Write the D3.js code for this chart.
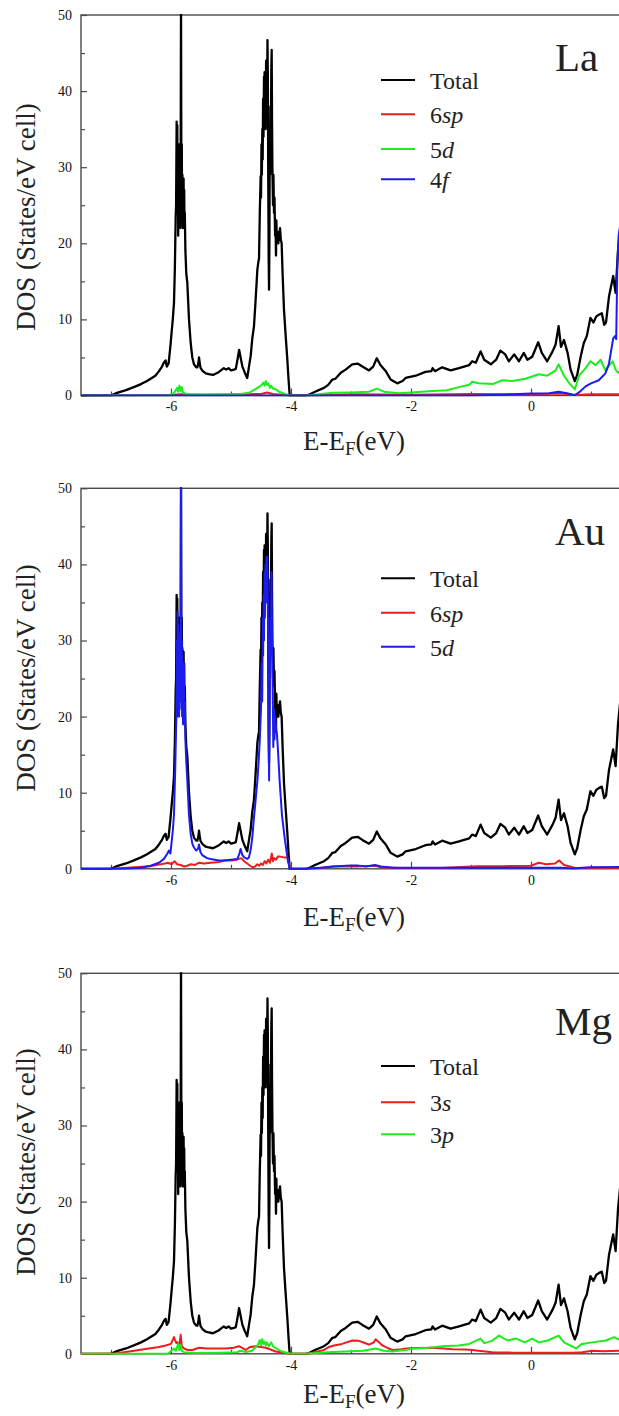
<!DOCTYPE html>
<html>
<head>
<meta charset="utf-8">
<script src="https://cdn.jsdelivr.net/npm/d3@7"></script>
<style>
  body { margin: 0; background: #fff; }
  svg { display: block; }
  text { font-family: "Liberation Serif", "Times New Roman", serif; fill: #222; }
  .tick text { font-family: "Liberation Serif", "Times New Roman", serif; font-size: 14px; fill: #111; }
</style>
</head>
<body>
<svg id="chart" width="619" height="1416"></svg>
<script>
// ---- Data: [E - E_F (eV), DOS (states/eV cell)] ----
const totalDOS = [
  [-7.5,0],[-7.0,0],[-6.9,0.35],[-6.75,0.7],[-6.62,1.1],[-6.5,1.5],[-6.4,1.9],[-6.34,2.2],[-6.26,2.6],[-6.2,3.2],
  [-6.15,3.8],[-6.12,4.3],[-6.09,4.6],[-6.07,3.8],[-6.04,4.2],[-6.01,6.5],[-5.99,8.3],[-5.97,10],[-5.95,12.2],[-5.935,17],
  [-5.922,23.5],[-5.915,25],[-5.906,36],[-5.90,30],[-5.895,35.5],[-5.89,24],[-5.885,32],[-5.88,21],[-5.875,30],[-5.87,23],
  [-5.865,33],[-5.86,26],[-5.85,30],[-5.845,22],[-5.84,28],[-5.833,52],[-5.826,24],[-5.82,33],[-5.815,23],[-5.81,29],
  [-5.805,22],[-5.80,28.5],[-5.795,23],[-5.79,28.5],[-5.785,22],[-5.78,27],[-5.775,22],[-5.77,24],[-5.76,19],[-5.745,16],
  [-5.728,14.8],[-5.70,10],[-5.672,6.9],[-5.645,5],[-5.617,4.1],[-5.58,3.7],[-5.56,3.7],[-5.545,4.2],[-5.533,5.0],[-5.52,4.2],
  [-5.506,3.6],[-5.47,3.2],[-5.42,2.9],[-5.37,2.8],[-5.30,2.7],[-5.2,3.1],[-5.12,3.6],[-5.08,3.4],[-5.04,3.6],[-5.0,3.3],
  [-4.95,3.4],[-4.92,3.5],[-4.89,4.8],[-4.865,6.0],[-4.84,5.0],[-4.81,3.8],[-4.77,3.0],[-4.73,2.3],[-4.70,3.8],[-4.672,5.2],
  [-4.645,7.5],[-4.617,9.1],[-4.59,12.5],[-4.561,16.5],[-4.545,17.5],[-4.533,18],[-4.52,24],[-4.506,28.8],[-4.50,26],[-4.492,33],
  [-4.486,29],[-4.478,35],[-4.472,31],[-4.465,39],[-4.458,34],[-4.45,41.9],[-4.445,36],[-4.44,42.5],[-4.435,37],[-4.428,41],
  [-4.422,35],[-4.415,44],[-4.41,38],[-4.404,43],[-4.398,40],[-4.392,46.7],[-4.386,42],[-4.38,30],[-4.372,18],[-4.366,13.9],
  [-4.36,20],[-4.354,33],[-4.348,29],[-4.342,38],[-4.336,33],[-4.328,43],[-4.322,45.4],[-4.316,36],[-4.31,30],[-4.30,25],
  [-4.293,29],[-4.283,24],[-4.275,26],[-4.265,21],[-4.258,23],[-4.25,18.4],[-4.244,23],[-4.235,20],[-4.225,21.5],[-4.211,20],
  [-4.2,21],[-4.183,22],[-4.17,20.5],[-4.156,20],[-4.14,16],[-4.117,11.3],[-4.09,8],[-4.061,4.7],[-4.04,2.0],[-4.022,0],
  [-3.75,0],[-3.7,0.1],[-3.6,0.5],[-3.45,1.0],[-3.38,1.4],[-3.31,2.1],[-3.26,2.2],[-3.17,3.0],[-3.09,3.4],[-2.98,4.1],
  [-2.89,4.2],[-2.81,3.8],[-2.70,3.3],[-2.63,3.8],[-2.57,4.9],[-2.51,4.0],[-2.42,3.2],[-2.34,2.1],[-2.23,1.6],[-2.14,1.9],
  [-2.09,2.3],[-1.92,2.6],[-1.76,3.1],[-1.66,3.2],[-1.64,3.6],[-1.6,3.2],[-1.48,3.7],[-1.34,3.3],[-1.2,3.6],[-1.03,4.0],
  [-0.98,4.5],[-0.92,4.3],[-0.84,5.8],[-0.78,4.7],[-0.67,4.1],[-0.58,4.7],[-0.51,5.9],[-0.43,5.4],[-0.37,4.5],[-0.28,5.4],
  [-0.2,4.5],[-0.12,5.6],[-0.06,4.7],[0.02,5.1],[0.12,7.0],[0.18,5.6],[0.27,4.5],[0.36,5.8],[0.41,6.7],[0.46,9.1],
  [0.50,6.4],[0.55,7.3],[0.61,5.6],[0.66,3.4],[0.73,1.9],[0.77,2.7],[0.83,5.2],[0.88,6.9],[0.93,7.8],[0.99,10.2],
  [1.04,9.6],[1.09,10.4],[1.13,10.6],[1.18,10.8],[1.22,9.3],[1.25,9.6],[1.30,13.0],[1.37,15.7],[1.41,13.5],[1.45,19],[1.5,23]
];

// La partial DOS
const la6sp = [
  [-7.5,0],[-6.0,0.05],[-5.85,0.15],[-5.5,0.05],[-4.5,0.2],[-4.4,0.4],[-4.3,0.2],[-4.02,0],[-3.75,0],[-3.0,0.15],
  [-2.0,0.1],[-1.0,0.2],[0,0.15],[0.5,0.25],[0.75,0.05],[1.0,0.15],[1.5,0.15]
];
const la5d = [
  [-7.5,0],[-6.05,0],[-5.95,0.3],[-5.9,1.0],[-5.88,0.5],[-5.86,1.3],[-5.84,0.6],[-5.82,1.1],[-5.8,0.4],[-5.75,0.2],
  [-5.5,0.15],[-5.0,0.15],[-4.85,0.2],[-4.7,0.35],[-4.6,0.8],[-4.5,1.3],[-4.46,1.7],[-4.44,1.3],[-4.42,1.9],[-4.40,1.4],
  [-4.38,1.6],[-4.35,1.0],[-4.33,1.3],[-4.3,0.9],[-4.25,0.8],[-4.2,0.5],[-4.1,0.2],[-4.02,0],[-3.75,0],[-3.5,0.2],
  [-3.3,0.35],[-3.0,0.4],[-2.7,0.5],[-2.57,0.9],[-2.45,0.5],[-2.2,0.3],[-2.0,0.4],[-1.64,0.6],[-1.4,0.7],[-1.2,1.1],
  [-1.03,1.4],[-0.98,1.8],[-0.87,1.6],[-0.64,1.5],[-0.48,2.0],[-0.31,1.9],[-0.09,2.2],[0.13,2.8],[0.27,2.6],[0.41,3.3],
  [0.46,4.1],[0.55,2.6],[0.63,1.7],[0.73,0.8],[0.8,2.6],[0.91,3.6],[0.99,4.5],[1.08,4.0],[1.16,4.7],[1.24,3.3],
  [1.36,4.5],[1.41,3.4],[1.45,3.0],[1.5,3.2]
];
const la4f = [
  [-7.5,0],[-1.0,0],[-0.5,0.1],[0,0.25],[0.3,0.3],[0.46,0.5],[0.6,0.3],[0.73,0.05],[0.8,0.4],[0.91,1.2],
  [1.0,1.6],[1.13,2.0],[1.24,2.9],[1.3,4.2],[1.33,5.6],[1.37,7.5],[1.40,7.8],[1.42,7.4],[1.44,17.4],[1.46,21],[1.5,23]
];

// Au partial DOS
const au6sp = [
  [-7.5,0],[-7.0,0],[-6.6,0.2],[-6.34,0.35],[-6.1,0.7],[-6.05,0.8],[-5.99,0.6],[-5.94,1.0],[-5.9,0.6],[-5.84,0.5],
  [-5.78,0.3],[-5.73,0.4],[-5.67,0.6],[-5.6,0.5],[-5.53,0.8],[-5.45,0.7],[-5.34,0.8],[-5.2,0.9],[-5.117,1.1],[-5.0,1.1],
  [-4.9,1.2],[-4.83,1.4],[-4.78,1.0],[-4.73,0.7],[-4.68,0.4],[-4.64,0.2],[-4.6,0.3],[-4.56,0.6],[-4.53,0.4],[-4.5,0.7],
  [-4.47,0.5],[-4.44,1.0],[-4.41,0.7],[-4.38,1.2],[-4.35,0.8],[-4.32,2.0],[-4.30,1.0],[-4.28,1.4],[-4.25,1.2],[-4.22,1.6],
  [-4.18,1.6],[-4.12,1.5],[-4.06,1.5],[-4.03,0.5],[-4.0,0],[-3.75,0],[-3.5,0.1],[-3.3,0.3],[-3.0,0.35],[-2.9,0.3],
  [-2.6,0.4],[-2.5,0.2],[-2.2,0.1],[-1.5,0.1],[-0.9,0.35],[-0.5,0.35],[0,0.4],[0.13,0.8],[0.25,0.6],[0.4,0.7],
  [0.47,1.1],[0.55,0.5],[0.74,0.1],[1.0,0.15],[1.5,0.15]
];
const au5d = [
  [-7.5,0],[-6.8,0],[-6.5,0.15],[-6.34,0.4],[-6.2,0.8],[-6.117,1.3],[-6.06,2.0],[-6.033,2.4],[-6.01,2.0],[-5.99,3.5],
  [-5.97,5],[-5.95,7.2],[-5.93,13],[-5.91,20.4],[-5.90,30],[-5.895,22],[-5.89,33.8],[-5.885,20],[-5.88,32],[-5.875,23],
  [-5.87,30],[-5.865,20],[-5.86,28],[-5.85,22],[-5.845,31],[-5.84,24],[-5.833,52],[-5.826,21],[-5.82,30],[-5.815,20],
  [-5.81,28],[-5.80,19],[-5.795,27],[-5.79,20],[-5.785,27],[-5.78,19],[-5.77,22],[-5.76,17],[-5.745,14],[-5.728,11.6],
  [-5.70,7],[-5.672,4.6],[-5.645,3.3],[-5.617,2.8],[-5.58,2.4],[-5.55,2.6],[-5.533,3.2],[-5.51,2.2],[-5.48,1.8],[-5.40,1.4],
  [-5.34,1.3],[-5.2,1.1],[-5.117,1.1],[-5.0,1.2],[-4.894,1.3],[-4.86,2.0],[-4.84,2.6],[-4.81,1.8],[-4.78,1.5],[-4.73,1.3],
  [-4.70,1.5],[-4.67,2.6],[-4.644,4.2],[-4.62,6.5],[-4.59,9.0],[-4.56,11.6],[-4.54,14],[-4.52,17],[-4.50,21],[-4.49,27],
  [-4.48,22],[-4.47,33],[-4.465,28],[-4.455,36],[-4.45,30],[-4.44,39],[-4.435,33],[-4.425,40],[-4.42,35],[-4.41,41],
  [-4.405,37],[-4.395,41],[-4.385,35],[-4.375,20],[-4.365,11.6],[-4.355,22],[-4.345,33],[-4.335,28],[-4.325,39],[-4.315,30],
  [-4.305,24],[-4.295,16],[-4.285,21],[-4.275,17],[-4.265,20],[-4.25,18.6],[-4.235,17.8],[-4.22,16],[-4.19,11.6],[-4.15,7],
  [-4.10,3.7],[-4.05,1],[-4.02,0],[-3.75,0],[-3.5,0.15],[-3.3,0.3],[-3.0,0.45],[-2.9,0.45],[-2.75,0.3],[-2.6,0.5],
  [-2.5,0.3],[-2.3,0.15],[-2.0,0.15],[-1.0,0.15],[0,0.15],[0.5,0.15],[0.7,0.05],[1.0,0.2],[1.5,0.25]
];

// Mg partial DOS
const mg3s = [
  [-7.5,0],[-6.95,0],[-6.7,0.3],[-6.367,0.7],[-6.2,0.9],[-6.089,1.1],[-6.0,1.3],[-5.95,2.2],[-5.933,1.8],[-5.91,1.4],
  [-5.894,1.5],[-5.86,1.2],[-5.839,2.5],[-5.82,1.0],[-5.783,0.7],[-5.72,0.5],[-5.644,0.5],[-5.533,0.8],[-5.4,0.7],[-5.256,0.7],
  [-5.1,0.7],[-4.978,0.75],[-4.867,1.0],[-4.8,0.7],[-4.756,0.5],[-4.68,0.9],[-4.589,1.0],[-4.5,0.9],[-4.422,0.8],[-4.35,0.6],
  [-4.256,0.3],[-4.1,0.1],[-4.033,0],[-3.75,0],[-3.6,0.2],[-3.45,0.5],[-3.367,0.9],[-3.283,1.1],[-3.15,1.3],[-2.978,1.75],
  [-2.867,1.7],[-2.78,1.45],[-2.7,1.2],[-2.62,1.5],[-2.589,1.9],[-2.53,1.5],[-2.478,1.1],[-2.4,0.8],[-2.311,0.5],[-2.2,0.55],
  [-2.089,0.7],[-1.9,0.75],[-1.644,0.8],[-1.45,0.7],[-1.311,0.6],[-1.1,0.55],[-0.978,0.5],[-0.8,0.35],[-0.644,0.2],[-0.3,0.15],
  [0.3,0.15],[0.7,0.15],[0.856,0.2],[1.022,0.4],[1.2,0.35],[1.5,0.4]
];
const mg3p = [
  [-7.5,0],[-6.05,0],[-5.95,0.7],[-5.92,0.4],[-5.88,1.3],[-5.86,0.5],[-5.84,1.2],[-5.82,0.4],[-5.78,0.2],[-5.6,0.1],
  [-5.2,0.15],[-4.9,0.2],[-4.85,0.4],[-4.75,0.25],[-4.65,0.4],[-4.6,0.8],[-4.55,1.2],[-4.52,1.8],[-4.50,1.1],[-4.48,1.9],
  [-4.46,1.3],[-4.44,1.6],[-4.42,1.1],[-4.40,1.5],[-4.37,1.0],[-4.33,1.5],[-4.3,1.0],[-4.25,0.7],[-4.15,0.3],[-4.05,0.1],
  [-4.0,0],[-3.75,0],[-3.4,0.2],[-3.0,0.35],[-2.8,0.4],[-2.59,0.7],[-2.45,0.4],[-2.311,0.3],[-2.1,0.5],[-1.94,0.7],
  [-1.7,0.8],[-1.48,1.0],[-1.2,1.1],[-1.03,1.3],[-0.95,1.6],[-0.84,2.0],[-0.78,1.4],[-0.65,1.7],[-0.53,2.4],[-0.45,2.0],
  [-0.39,1.75],[-0.25,2.0],[-0.1,1.5],[0.02,2.0],[0.13,1.5],[0.28,1.75],[0.46,2.4],[0.55,1.5],[0.75,0.7],[0.85,1.3],
  [1.02,1.5],[1.25,1.75],[1.39,2.2],[1.45,1.9],[1.5,2.0]
];

// Axis ticks
const yMajorTicks = [0, 10, 20, 30, 40, 50];
const yMinorTicks = [5, 15, 25, 35, 45];
const xMajorTicks = [-6, -4, -2, 0];
const xMinorTicks = [-7, -5, -3, -1, 1];

// Colours
const BLACK = "#000000", RED = "#ee1c1c", GREEN = "#1cee1c", BLUE = "#1c1cee";

// Legend labels: [upright part, italic part]
const panels = [
  { element: "La", series: [
    { label: ["Total", ""], color: BLACK, data: totalDOS },
    { label: ["6", "sp"], color: RED, data: la6sp },
    { label: ["5", "d"], color: GREEN, data: la5d },
    { label: ["4", "f"], color: BLUE, data: la4f }
  ]},
  { element: "Au", series: [
    { label: ["Total", ""], color: BLACK, data: totalDOS },
    { label: ["6", "sp"], color: RED, data: au6sp },
    { label: ["5", "d"], color: BLUE, data: au5d }
  ]},
  { element: "Mg", series: [
    { label: ["Total", ""], color: BLACK, data: totalDOS },
    { label: ["3", "s"], color: RED, data: mg3s },
    { label: ["3", "p"], color: GREEN, data: mg3p }
  ]}
];

// ---- Layout ----
const svg = d3.select("#chart");
const plotLeft = 81, plotRight = 651, plotH = 380.5;
const panelTops = [15, 488.3, 973.3];
const yTitleCenters = [217, 678, 1162];
const xTitleOffsets = [54, 57, 49];
const elementBaselines = [56, 57, 62];
const legendRows = [[65, 99.3, 134, 164.3], [90, 124.4, 158.4], [92.7, 129, 161]];
const frameColor = "#4a4a4a";

const x = d3.scaleLinear().domain([-7.5, 2.0]).range([plotLeft, plotRight]);
const fmt = d => String(d);

panels.forEach((panel, i) => {
  const top = panelTops[i];
  const bottom = top + plotH;
  const y = d3.scaleLinear().domain([0, 50]).range([bottom, top]);
  const g = svg.append("g");

  // Frame
  g.append("rect")
    .attr("x", plotLeft).attr("y", top)
    .attr("width", plotRight - plotLeft).attr("height", plotH)
    .attr("fill", "none").attr("stroke", frameColor).attr("stroke-width", 1.4);

  // Y axis (ticks point inward)
  g.append("g").attr("transform", `translate(${plotLeft},0)`)
    .call(d3.axisLeft(y).tickValues(yMajorTicks).tickSize(-6).tickSizeOuter(0).tickPadding(9).tickFormat(fmt));
  g.append("g").attr("transform", `translate(${plotLeft},0)`)
    .call(d3.axisLeft(y).tickValues(yMinorTicks).tickSize(-4).tickSizeOuter(0).tickFormat(""));

  // X axis
  g.append("g").attr("transform", `translate(0,${bottom})`)
    .call(d3.axisBottom(x).tickValues(xMajorTicks).tickSize(-7).tickSizeOuter(0).tickPadding(6).tickFormat(fmt));
  g.append("g").attr("transform", `translate(0,${bottom})`)
    .call(d3.axisBottom(x).tickValues(xMinorTicks).tickSize(-4).tickSizeOuter(0).tickFormat(""));

  g.selectAll(".domain").remove();
  g.selectAll(".tick line").attr("stroke", frameColor).attr("stroke-width", 1.2);

  // Curves
  const clipId = "plot-clip-" + i;
  g.append("clipPath").attr("id", clipId)
    .append("rect").attr("x", plotLeft).attr("y", top - 1)
    .attr("width", plotRight - plotLeft).attr("height", plotH + 2);
  const line = d3.line().x(d => x(d[0])).y(d => y(d[1]));
  const curves = g.append("g").attr("clip-path", `url(#${clipId})`);
  panel.series.forEach((s, k) => {
    curves.append("path").datum(s.data)
      .attr("d", line)
      .attr("fill", "none")
      .attr("stroke", s.color)
      .attr("stroke-width", k === 0 ? 2.3 : 2)
      .attr("stroke-linejoin", "round");
  });

  // Axis titles
  g.append("text")
    .attr("transform", `translate(35,${yTitleCenters[i]}) rotate(-90)`)
    .attr("text-anchor", "middle").attr("font-size", 27)
    .text("DOS (States/eV cell)");

  const xt = g.append("text")
    .attr("x", 354).attr("y", bottom + xTitleOffsets[i])
    .attr("text-anchor", "middle").attr("font-size", 27);
  xt.append("tspan").text("E-E");
  xt.append("tspan").attr("font-size", 19).attr("dy", 5).text("F");
  xt.append("tspan").attr("dy", -5).text("(eV)");

  // Element label
  g.append("text")
    .attr("x", 555).attr("y", top + elementBaselines[i])
    .attr("font-size", 41).text(panel.element);

  // Legend
  panel.series.forEach((s, k) => {
    const ly = top + legendRows[i][k];
    g.append("line")
      .attr("x1", 381).attr("x2", 415).attr("y1", ly).attr("y2", ly)
      .attr("stroke", s.color).attr("stroke-width", 2);
    const t = g.append("text").attr("x", 430).attr("y", ly + 9).attr("font-size", 24);
    t.append("tspan").text(s.label[0]);
    if (s.label[1]) t.append("tspan").attr("font-style", "italic").text(s.label[1]);
  });
});
</script>
</body>
</html>
